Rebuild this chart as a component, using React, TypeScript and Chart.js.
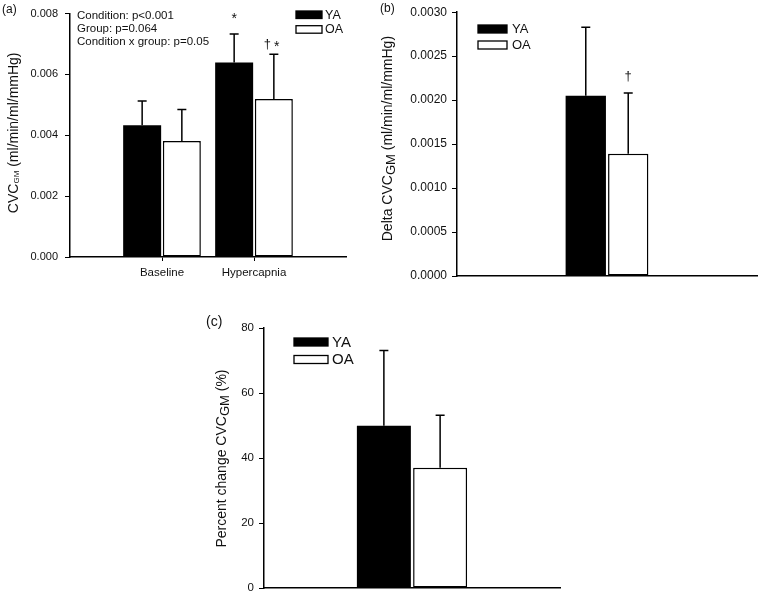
import React, { useEffect, useRef } from 'react';
import { Chart, registerables } from 'chart.js';

Chart.register(...registerables);

const FONT = "'Liberation Sans', Arial, Helvetica, sans-serif";
const INK = '#111';

// ---- data ----
const groups = ['YA', 'OA'];
const conditionsA = ['Baseline', 'Hypercapnia'];

// panel (a): CVC_GM
const a_YA = [0.00433, 0.00639];
const a_OA = [0.00381, 0.00519];
const a_YA_upper = [0.00513, 0.00733];
const a_OA_upper = [0.00485, 0.00666];
const a_notes = ['Condition: p<0.001', 'Group: p=0.064', 'Condition x group: p=0.05'];

// panel (b): Delta CVC_GM
const b_YA = [0.00205];
const b_OA = [0.00139];
const b_YA_upper = [0.00283];
const b_OA_upper = [0.00208];

// panel (c): Percent change CVC_GM
const c_YA = [49.9];
const c_OA = [37.0];
const c_YA_upper = [73.1];
const c_OA_upper = [53.2];

const decorPlugin = {
  id: 'decor',
  afterDatasetsDraw(chart: any, _args: any, opts: any) {
    const ctx = chart.ctx;
    const ys = chart.scales.y;
    ctx.save();
    // error bars (upper only)
    (opts.errors || []).forEach((arr: number[], di: number) => {
      const meta = chart.getDatasetMeta(di);
      meta.data.forEach((el: any, i: number) => {
        const top = ys.getPixelForValue(arr[i]);
        ctx.strokeStyle = '#000';
        ctx.lineWidth = 1.5;
        ctx.beginPath();
        ctx.moveTo(el.x, el.y);
        ctx.lineTo(el.x, top);
        ctx.moveTo(el.x - opts.cap, top);
        ctx.lineTo(el.x + opts.cap, top);
        ctx.stroke();
      });
    });
    // significance markers
    (opts.markers || []).forEach((m: any) => {
      const el = chart.getDatasetMeta(m.ds).data[m.i];
      const top = ys.getPixelForValue(opts.errors[m.ds][m.i]);
      ctx.fillStyle = INK;
      ctx.font = `${m.size}px ${FONT}`;
      ctx.textAlign = 'center';
      ctx.textBaseline = 'alphabetic';
      ctx.fillText(m.text, el.x + m.dx, top + m.dy);
    });
    ctx.restore();
  },
  afterDraw(chart: any, _args: any, opts: any) {
    const ctx = chart.ctx;
    const ca = chart.chartArea;
    ctx.save();
    ctx.fillStyle = INK;
    // panel label
    if (opts.panel) {
      ctx.font = `${opts.panel.size}px ${FONT}`;
      ctx.textAlign = 'left';
      ctx.textBaseline = 'middle';
      ctx.fillText(opts.panel.text, opts.panel.x, opts.panel.y);
    }
    // notes
    if (opts.notes) {
      ctx.font = `${opts.notes.size}px ${FONT}`;
      ctx.textAlign = 'left';
      ctx.textBaseline = 'middle';
      opts.notes.lines.forEach((t: string, k: number) => {
        ctx.fillText(t, opts.notes.x, opts.notes.y + k * opts.notes.step);
      });
    }
    // legend
    if (opts.legend) {
      const L = opts.legend;
      chart.data.datasets.forEach((ds: any, k: number) => {
        const y0 = L.y + k * L.step;
        ctx.fillStyle = ds.backgroundColor;
        ctx.fillRect(L.x, y0, L.w, L.h);
        ctx.strokeStyle = '#000';
        ctx.lineWidth = 1.3;
        ctx.strokeRect(L.x, y0, L.w, L.h);
        ctx.fillStyle = INK;
        ctx.font = `${L.size}px ${FONT}`;
        ctx.textAlign = 'left';
        ctx.textBaseline = 'middle';
        ctx.fillText(ds.label, L.textX, y0 + L.h / 2 + 0.5);
      });
    }
    // rotated y title with subscript
    if (opts.title) {
      const T = opts.title;
      const cx = ca.left - T.dx;
      const cy = (ca.top + ca.bottom) / 2 + T.dy;
      ctx.translate(cx, cy);
      ctx.rotate(-Math.PI / 2);
      let total = 0;
      T.parts.forEach((p: any) => {
        ctx.font = `${p.size}px ${FONT}`;
        total += ctx.measureText(p.t).width;
      });
      let x = -total / 2;
      ctx.textAlign = 'left';
      ctx.textBaseline = 'middle';
      ctx.fillStyle = INK;
      T.parts.forEach((p: any) => {
        ctx.font = `${p.size}px ${FONT}`;
        ctx.fillText(p.t, x, p.shift);
        x += ctx.measureText(p.t).width;
      });
    }
    ctx.restore();
  },
};

const axisBorder = { display: true, color: '#000', width: 1.5 };

function yScale(min: number, max: number, step: number, digits: number, size: number, width: number, pad: number) {
  return {
    min,
    max,
    ticks: {
      stepSize: step,
      callback: (v: number) => Number(v).toFixed(digits),
      font: { family: FONT, size },
      color: INK,
      padding: pad,
    },
    afterFit: (s: any) => {
      s.width = width;
    },
    grid: { display: true, drawOnChartArea: false, drawTicks: true, tickLength: 5, color: '#000', lineWidth: 1 },
    border: axisBorder,
  };
}

const baseOpts = {
  responsive: false,
  animation: false as const,
  events: [] as any[],
};

function configA(): any {
  return {
    type: 'bar',
    data: {
      datasets: [
        {
          label: groups[0],
          data: conditionsA.map((_, i) => ({ x: i + 1, y: a_YA[i] })),
          backgroundColor: '#000',
          borderColor: '#000',
          borderWidth: 0,
        },
        {
          label: groups[1],
          data: conditionsA.map((_, i) => ({ x: i + 1, y: a_OA[i] })),
          backgroundColor: '#fff',
          borderColor: '#000',
          borderWidth: 1.5,
          borderSkipped: false,
        },
      ],
    },
    options: {
      ...baseOpts,
      layout: { padding: { left: 20, right: 414, top: 8, bottom: 313 } },
      datasets: { bar: { categoryPercentage: 0.863, barPercentage: 0.957 } },
      plugins: {
        legend: { display: false },
        tooltip: { enabled: false },
        decor: {
          errors: [a_YA_upper, a_OA_upper],
          cap: 4.5,
          markers: [
            { ds: 0, i: 1, text: '*', size: 14, dx: 0, dy: -11 },
            { ds: 1, i: 1, text: '†', size: 13, dx: -6.5, dy: -6 },
            { ds: 1, i: 1, text: '*', size: 14, dx: 3, dy: -3 },
          ],
          panel: { text: '(a)', x: 2, y: 10, size: 12 },
          notes: { lines: a_notes, x: 77, y: 15.7, step: 13.3, size: 11.5 },
          legend: { x: 296, y: 11, w: 26, h: 7.5, step: 14.7, textX: 325, size: 12.5 },
          title: {
            dx: 56,
            dy: -2.5,
            parts: [
              { t: 'CVC', size: 14, shift: 0 },
              { t: 'GM', size: 8, shift: 3 },
              { t: ' (ml/min/ml/mmHg)', size: 14, shift: 0 },
            ],
          },
        },
      },
      scales: {
        x: {
          type: 'linear',
          min: 0,
          max: 3,
          offset: false,
          afterBuildTicks: (s: any) => {
            s.ticks = conditionsA.map((_, i) => ({ value: i + 1 }));
          },
          afterFit: (s: any) => {
            s.height = 30;
          },
          ticks: {
            callback: (v: number) => conditionsA[Math.round(v) - 1] ?? '',
            font: { family: FONT, size: 11.5 },
            color: INK,
            padding: 5,
            maxRotation: 0,
            autoSkip: false,
          },
          grid: { display: true, drawOnChartArea: false, drawTicks: true, tickLength: 4, color: '#000', offset: false },
          border: axisBorder,
        },
        y: yScale(0, 0.008, 0.002, 3, 11, 50, 7),
      },
    },
    plugins: [decorPlugin],
  };
}

function configSingle(
  YA: number[],
  OA: number[],
  YAu: number[],
  OAu: number[],
  extra: any
): any {
  return {
    type: 'bar',
    data: {
      labels: [''],
      datasets: [
        { label: groups[0], data: YA, backgroundColor: '#000', borderColor: '#000', borderWidth: 0 },
        { label: groups[1], data: OA, backgroundColor: '#fff', borderColor: '#000', borderWidth: 1.5, borderSkipped: false },
      ],
    },
    options: {
      ...baseOpts,
      layout: { padding: extra.padding },
      datasets: { bar: { categoryPercentage: extra.catPct, barPercentage: extra.barPct } },
      plugins: {
        legend: { display: false },
        tooltip: { enabled: false },
        decor: { errors: [YAu, OAu], cap: 4.5, ...extra.decor },
      },
      scales: {
        x: {
          type: 'category',
          offset: true,
          ticks: { display: false },
          afterFit: (s: any) => {
            s.height = extra.xHeight;
          },
          grid: { display: true, drawOnChartArea: false, drawTicks: false },
          border: axisBorder,
        },
        y: extra.y,
      },
    },
    plugins: [decorPlugin],
  };
}

function configB(): any {
  return configSingle(b_YA, b_OA, b_YA_upper, b_OA_upper, {
    padding: { left: 402, right: 3, top: 7, bottom: 314 },
    catPct: 0.283,
    barPct: 0.95,
    xHeight: 10,
    y: yScale(0, 0.003, 0.0005, 4, 12, 55, 5),
    decor: {
      markers: [{ ds: 1, i: 0, text: '†', size: 13, dx: 0, dy: -13 }],
      panel: { text: '(b)', x: 380, y: 9, size: 12 },
      legend: { x: 478, y: 25, w: 29, h: 8, step: 16, textX: 512, size: 13 },
      title: {
        dx: 69,
        dy: -5.5,
        parts: [
          { t: 'Delta CVC', size: 14, shift: 0 },
          { t: 'GM', size: 13, shift: 3.5 },
          { t: ' (ml/min/ml/mmHg)', size: 14, shift: 0 },
        ],
      },
    },
  });
}

function configC(): any {
  return configSingle(c_YA, c_OA, c_YA_upper, c_OA_upper, {
    padding: { left: 224, right: 200, top: 328, bottom: 2 },
    catPct: 0.38,
    barPct: 0.96,
    xHeight: 5,
    y: yScale(0, 80, 20, 0, 11.5, 40, 5),
    decor: {
      markers: [],
      panel: { text: '(c)', x: 206, y: 322, size: 14 },
      legend: { x: 294, y: 338, w: 34, h: 8, step: 17.5, textX: 332, size: 15 },
      title: {
        dx: 42,
        dy: 0.5,
        parts: [
          { t: 'Percent change CVC', size: 14, shift: 0 },
          { t: 'GM', size: 13, shift: 3.5 },
          { t: ' (%)', size: 14, shift: 0 },
        ],
      },
    },
  });
}

export default function App() {
  const refA = useRef<HTMLCanvasElement>(null);
  const refB = useRef<HTMLCanvasElement>(null);
  const refC = useRef<HTMLCanvasElement>(null);

  useEffect(() => {
    const charts = [
      new Chart(refA.current as HTMLCanvasElement, configA()),
      new Chart(refB.current as HTMLCanvasElement, configB()),
      new Chart(refC.current as HTMLCanvasElement, configC()),
    ];
    return () => charts.forEach((c) => c.destroy());
  }, []);

  const cs: React.CSSProperties = { position: 'absolute', left: 0, top: 0, width: 760, height: 600 };
  return (
    <div style={{ position: 'fixed', left: 0, top: 0, width: 760, height: 600, background: '#fff' }}>
      <canvas ref={refA} width={760} height={600} style={cs} />
      <canvas ref={refB} width={760} height={600} style={cs} />
      <canvas ref={refC} width={760} height={600} style={cs} />
    </div>
  );
}
